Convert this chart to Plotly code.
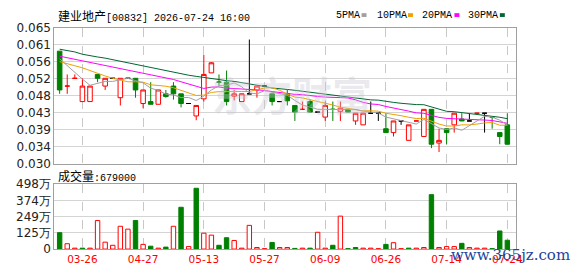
import plotly.graph_objects as go

# ---------------- data ----------------
open_ = [0.059, 0.050, 0.052, 0.046, 0.046, 0.053, 0.050, 0.052, 0.047, 0.052,
         0.052, 0.0455, 0.046, 0.0453, 0.048, 0.050, 0.048, 0.0455, 0.0423, 0.0467,
         0.0534, 0.051, 0.051, 0.0474, 0.046, 0.048, 0.049, 0.050, 0.048, 0.046,
         0.048, 0.045, 0.044, 0.046, 0.0433, 0.042, 0.044, 0.0435, 0.044, 0.041,
         0.040, 0.043, 0.043, 0.039, 0.038, 0.041, 0.036, 0.041, 0.037, 0.044,
         0.0353, 0.039, 0.040, 0.0415, 0.041, 0.043, 0.043, 0.042, 0.038, 0.040]
high = [0.059, 0.053, 0.053, 0.052, 0.050, 0.053, 0.052, 0.052, 0.052, 0.052,
        0.052, 0.049, 0.051, 0.049, 0.049, 0.051, 0.048, 0.0455, 0.045, 0.058,
        0.0562, 0.053, 0.054, 0.049, 0.048, 0.062, 0.050, 0.050, 0.048, 0.046,
        0.049, 0.045, 0.046, 0.0465, 0.0433, 0.046, 0.046, 0.046, 0.044, 0.043,
        0.043, 0.046, 0.043, 0.043, 0.041, 0.041, 0.040, 0.041, 0.044, 0.044,
        0.039, 0.039, 0.043, 0.043, 0.043, 0.043, 0.043, 0.042, 0.038, 0.043]
low = [0.048, 0.048, 0.052, 0.046, 0.046, 0.051, 0.049, 0.052, 0.045, 0.052,
       0.047, 0.0443, 0.0453, 0.0453, 0.047, 0.0465, 0.0445, 0.0455, 0.0412, 0.046,
       0.0534, 0.050, 0.045, 0.0463, 0.046, 0.048, 0.047, 0.050, 0.045, 0.046,
       0.045, 0.041, 0.044, 0.0433, 0.0433, 0.041, 0.041, 0.041, 0.0433, 0.040,
       0.040, 0.043, 0.041, 0.038, 0.037, 0.040, 0.036, 0.041, 0.037, 0.034,
       0.033, 0.035, 0.038, 0.041, 0.041, 0.043, 0.038, 0.039, 0.035, 0.035]
close = [0.049, 0.050, 0.052, 0.050, 0.050, 0.052, 0.052, 0.052, 0.052, 0.052,
         0.049, 0.049, 0.0453, 0.049, 0.0473, 0.048, 0.0455, 0.0455, 0.045, 0.053,
         0.056, 0.051, 0.046, 0.048, 0.048, 0.048, 0.050, 0.050, 0.046, 0.046,
         0.0462, 0.0433, 0.044, 0.0433, 0.0433, 0.045, 0.044, 0.0443, 0.0433, 0.043,
         0.043, 0.043, 0.043, 0.038, 0.041, 0.041, 0.040, 0.041, 0.044, 0.035,
         0.036, 0.038, 0.043, 0.041, 0.041, 0.043, 0.043, 0.042, 0.037, 0.035]
# volume in 万 (10,000 shares)
vol_wan = [126, 41, 7, 7, 7, 219, 53, 29, 175, 153,
           219, 36, 22, 7, 15, 175, 321, 19, 467, 122,
           107, 29, 87, 66, 7, 182, 12, 3, 51, 12,
           12, 5, 7, 7, 129, 7, 29, 253, 3, 12,
           7, 7, 3, 36, 49, 3, 7, 7, 12, 418,
           12, 19, 19, 44, 12, 7, 7, 3, 139, 67.9]
ma5 = [0.057, 0.0552, 0.0535, 0.0518, 0.0502, 0.0508, 0.0512, 0.0512, 0.0516, 0.052,
       0.0514, 0.0508, 0.04946, 0.04886, 0.04792, 0.04772, 0.04702, 0.04706, 0.04626, 0.0474,
       0.049, 0.0501, 0.0502, 0.0508, 0.0498, 0.0482, 0.048, 0.0488, 0.0484, 0.048,
       0.04764, 0.0463, 0.0451, 0.04456, 0.04402, 0.04398, 0.04392, 0.04398, 0.04398, 0.04392,
       0.04352, 0.04332, 0.04306, 0.042, 0.0416, 0.0412, 0.0406, 0.0402, 0.0414, 0.0402,
       0.0392, 0.0388, 0.0392, 0.0386, 0.0398, 0.0412, 0.0422, 0.042, 0.0412, 0.040]
ma10 = [0.0563, 0.0558, 0.0553, 0.0547, 0.0540, 0.0532, 0.0526, 0.0520, 0.0515, 0.0511,
        0.0511, 0.0510, 0.05033, 0.05023, 0.04996, 0.04956, 0.04891, 0.04826, 0.04756, 0.04766,
        0.04836, 0.04856, 0.04863, 0.04853, 0.0486, 0.0486, 0.04905, 0.0495, 0.0496, 0.0489,
        0.04792, 0.04715, 0.04695, 0.04648, 0.04601, 0.04571, 0.04511, 0.04454, 0.04427, 0.04397,
        0.04365, 0.04362, 0.04352, 0.04299, 0.04276, 0.04236, 0.04196, 0.04163, 0.0417, 0.0409,
        0.0402, 0.0397, 0.0397, 0.0400, 0.0400, 0.0402, 0.0405, 0.0406, 0.0399, 0.0399]
ma20 = [0.0577, 0.0573, 0.0569, 0.0565, 0.0561, 0.0557, 0.0553, 0.0549, 0.0545, 0.0541,
        0.0537, 0.0533, 0.0529, 0.0526, 0.0522, 0.0517, 0.0511, 0.0505, 0.0499, 0.04938,
        0.04973, 0.04978, 0.04948, 0.04938, 0.04928, 0.04908, 0.04898, 0.04888, 0.04858, 0.04828,
        0.04814, 0.04786, 0.04779, 0.04751, 0.04731, 0.04716, 0.04708, 0.04702, 0.04694, 0.04644,
        0.04579, 0.04539, 0.04524, 0.04474, 0.04439, 0.04404, 0.04354, 0.04309, 0.04299, 0.04244,
        0.04193, 0.04166, 0.04161, 0.0415, 0.04138, 0.04128, 0.04123, 0.04112, 0.0408, 0.0404]
ma30 = [0.0595, 0.0592, 0.0588, 0.0582, 0.0578, 0.0575, 0.0572, 0.0568, 0.0564, 0.0560,
        0.0556, 0.0551, 0.0547, 0.0543, 0.0539, 0.0535, 0.0531, 0.0528, 0.0525, 0.0522,
        0.0519, 0.0516, 0.0514, 0.0512, 0.0509, 0.0506, 0.0503, 0.0499, 0.0495, 0.04922,
        0.04913, 0.0489, 0.04864, 0.04841, 0.04819, 0.04796, 0.04769, 0.04743, 0.04714, 0.04684,
        0.04664, 0.04644, 0.04637, 0.0460, 0.04579, 0.04556, 0.04537, 0.04522, 0.04519, 0.04459,
        0.04392, 0.04349, 0.04339, 0.04316, 0.04292, 0.04276, 0.04252, 0.04226, 0.04196, 0.04159]

tick_pos = [3, 11, 19, 27, 35, 43, 51, 59]
tick_labels = ["03-26", "04-27", "05-13", "05-27", "06-09", "06-26", "07-14", "07-24"]
price_ticks = [0.030, 0.034375, 0.03875, 0.043125, 0.0475, 0.051875, 0.05625, 0.060625, 0.065]
price_tick_text = ["0.030", "0.034", "0.039", "0.043", "0.048", "0.052", "0.056", "0.061", "0.065"]
vol_ticks_wan = [0, 124.5, 249, 373.5, 498]
vol_tick_text = ["0", "125万", "249万", "374万", "498万"]

title_name = "建业地产"
title_rest = "[00832] 2026-07-24 16:00"
last_volume = "679000"
ma_names = ["5PMA", "10PMA", "20PMA", "30PMA"]

# ---------------- styling ----------------
RED = "#ff0000"
GREEN = "#008000"
BLACK = "#000000"
MA_COLORS = ["#a0a0a0", "#f0a000", "#ff00ff", "#006633"]

W, H = 578, 276
PL, PR = 55, 522
MAIN_T, MAIN_B = 22, 165
VOL_T, VOL_B = 186.7, 255

n = len(close)
xs = list(range(n))

# candle groups by colour
groups = {"up": [], "down": [], "d_red": [], "d_green": [], "d_black": []}
for i in xs:
    o, c = open_[i], close[i]
    if c > o:
        groups["up"].append(i)
    elif c < o:
        groups["down"].append(i)
    else:
        p = close[i - 1] if i > 0 else c
        if c > p:
            groups["d_red"].append(i)
        elif c < p:
            groups["d_green"].append(i)
        else:
            groups["d_black"].append(i)

styles = {
    "up": (RED, "#ffffff"),
    "down": (GREEN, GREEN),
    "d_red": (RED, RED),
    "d_green": (GREEN, GREEN),
    "d_black": (BLACK, BLACK),
}

fig = go.Figure()
for g, idx in groups.items():
    if not idx:
        continue
    lc, fc = styles[g]
    fig.add_trace(go.Candlestick(
        x=idx,
        open=[open_[i] for i in idx], high=[high[i] for i in idx],
        low=[low[i] for i in idx], close=[close[i] for i in idx],
        increasing=dict(line=dict(color=lc, width=1), fillcolor=fc),
        decreasing=dict(line=dict(color=lc, width=1), fillcolor=fc),
        whiskerwidth=0, hoverinfo="skip", showlegend=False,
        xaxis="x", yaxis="y",
    ))

for vals, col in zip([ma30, ma20, ma10, ma5], MA_COLORS[::-1]):
    fig.add_trace(go.Scatter(x=xs, y=vals, mode="lines",
                             line=dict(color=col, width=1),
                             hoverinfo="skip", showlegend=False,
                             xaxis="x", yaxis="y"))

# volume
vcol_line, vcol_fill = [], []
for i in xs:
    p = close[i - 1] if i > 0 else open_[0]
    if close[i] < p:
        vcol_line.append(GREEN); vcol_fill.append(GREEN)
    else:
        vcol_line.append(RED); vcol_fill.append("#ffffff")
fig.add_trace(go.Bar(x=xs, y=[v * 1e4 for v in vol_wan], width=0.58,
                     marker=dict(color=vcol_fill, line=dict(color=vcol_line, width=1)),
                     hoverinfo="skip", showlegend=False,
                     xaxis="x2", yaxis="y2"))

xdom = [PL / W, PR / W]
ydom_main = [1 - MAIN_B / H, 1 - MAIN_T / H]
ydom_vol = [1 - VOL_B / H, 1 - VOL_T / H]
xrange = [-0.7, 60.1]
FRAME = "#a0a0a0"
tickfont = dict(family="DejaVu Sans", size=12, color="#222222")

common_x = dict(range=xrange, tickmode="array", tickvals=tick_pos,
                showgrid=True, gridcolor="#c8c8c8", griddash="dash", gridwidth=1,
                zeroline=False, showline=True, mirror=True, linecolor=FRAME,
                linewidth=1, ticks="", fixedrange=True)

fig.update_layout(
    width=W, height=H, margin=dict(l=0, r=0, t=0, b=0),
    paper_bgcolor="white", plot_bgcolor="white",
    boxgap=0.2, boxgroupgap=0.25, bargap=0.4,
    xaxis=dict(domain=xdom, anchor="y", showticklabels=False,
               rangeslider=dict(visible=False), **common_x),
    yaxis=dict(domain=ydom_main, anchor="x", range=[0.030, 0.065],
               tickmode="array", tickvals=price_ticks, ticktext=price_tick_text,
               showgrid=True, gridcolor="#d4d4d4", gridwidth=1, zeroline=False,
               showline=True, mirror=True, linecolor=FRAME, linewidth=1,
               ticks="", tickfont=tickfont, fixedrange=True),
    xaxis2=dict(domain=xdom, anchor="y2", showticklabels=True, ticktext=tick_labels,
                tickfont=dict(family="DejaVu Sans", size=10.5, color=RED),
                rangeslider=dict(visible=False), **common_x),
    yaxis2=dict(domain=ydom_vol, anchor="x2", range=[0, 498e4],
                tickmode="array", tickvals=[v * 1e4 for v in vol_ticks_wan],
                ticktext=vol_tick_text,
                showgrid=True, gridcolor="#d4d4d4", gridwidth=1, zeroline=False,
                showline=True, mirror=True, linecolor=FRAME, linewidth=1,
                ticks="", tickfont=tickfont, fixedrange=True),
)

CJK = "Noto Sans CJK SC"
MONO = "Liberation Mono"
ann = []
# title
ann.append(dict(
    text=(f'<span style="font-family:{CJK};font-size:12px">{title_name}</span>'
          f'<span style="font-family:{MONO};font-size:10px">{title_rest}</span>'),
    x=57 / W, y=1 - 8.5 / H, xref="paper", yref="paper", xanchor="left", yanchor="middle",
    showarrow=False, font=dict(family=MONO, size=10, color="#000000")))
# legend labels
leg_x = [338, 380, 425, 472]
sq_x = [(366, 371), (413, 418), (460, 465), (506, 511)]
for name, lx in zip(ma_names, leg_x):
    ann.append(dict(text=name, x=lx / W, y=1 - 8.5 / H, xref="paper", yref="paper",
                    xanchor="left", yanchor="middle", showarrow=False,
                    font=dict(family=MONO, size=10, color="#000000")))
shapes = []
for (x0, x1), col in zip(sq_x, MA_COLORS):
    shapes.append(dict(type="rect", xref="paper", yref="paper",
                       x0=x0 / W, x1=x1 / W, y0=1 - 10.5 / H, y1=1 - 6.5 / H,
                       fillcolor=col, line=dict(width=0)))
# volume label
ann.append(dict(
    text=(f'<span style="font-family:{CJK};font-size:12px">成交量</span>'
          f'<span style="font-family:{MONO};font-size:10px">:{last_volume}</span>'),
    x=57 / W, y=1 - 177.5 / H, xref="paper", yref="paper", xanchor="left", yanchor="middle",
    showarrow=False, font=dict(family=MONO, size=10, color="#000000")))
# faint watermark in main pane
ann.append(dict(text="<b>东方财富</b>", x=296 / W, y=1 - 92 / H, xref="paper", yref="paper",
                xanchor="center", yanchor="middle", showarrow=False,
                font=dict(family=CJK, size=40, color="rgba(200,200,210,0.38)")))
# site watermark bottom right
ann.append(dict(text="www.365jz.com", x=455 / W, y=1 - 261 / H, xref="paper", yref="paper",
                xanchor="left", yanchor="middle", showarrow=False,
                font=dict(family="DejaVu Serif", size=15, color="#22449a")))

fig.update_layout(annotations=ann, shapes=shapes)
fig.write_html("out.html")
